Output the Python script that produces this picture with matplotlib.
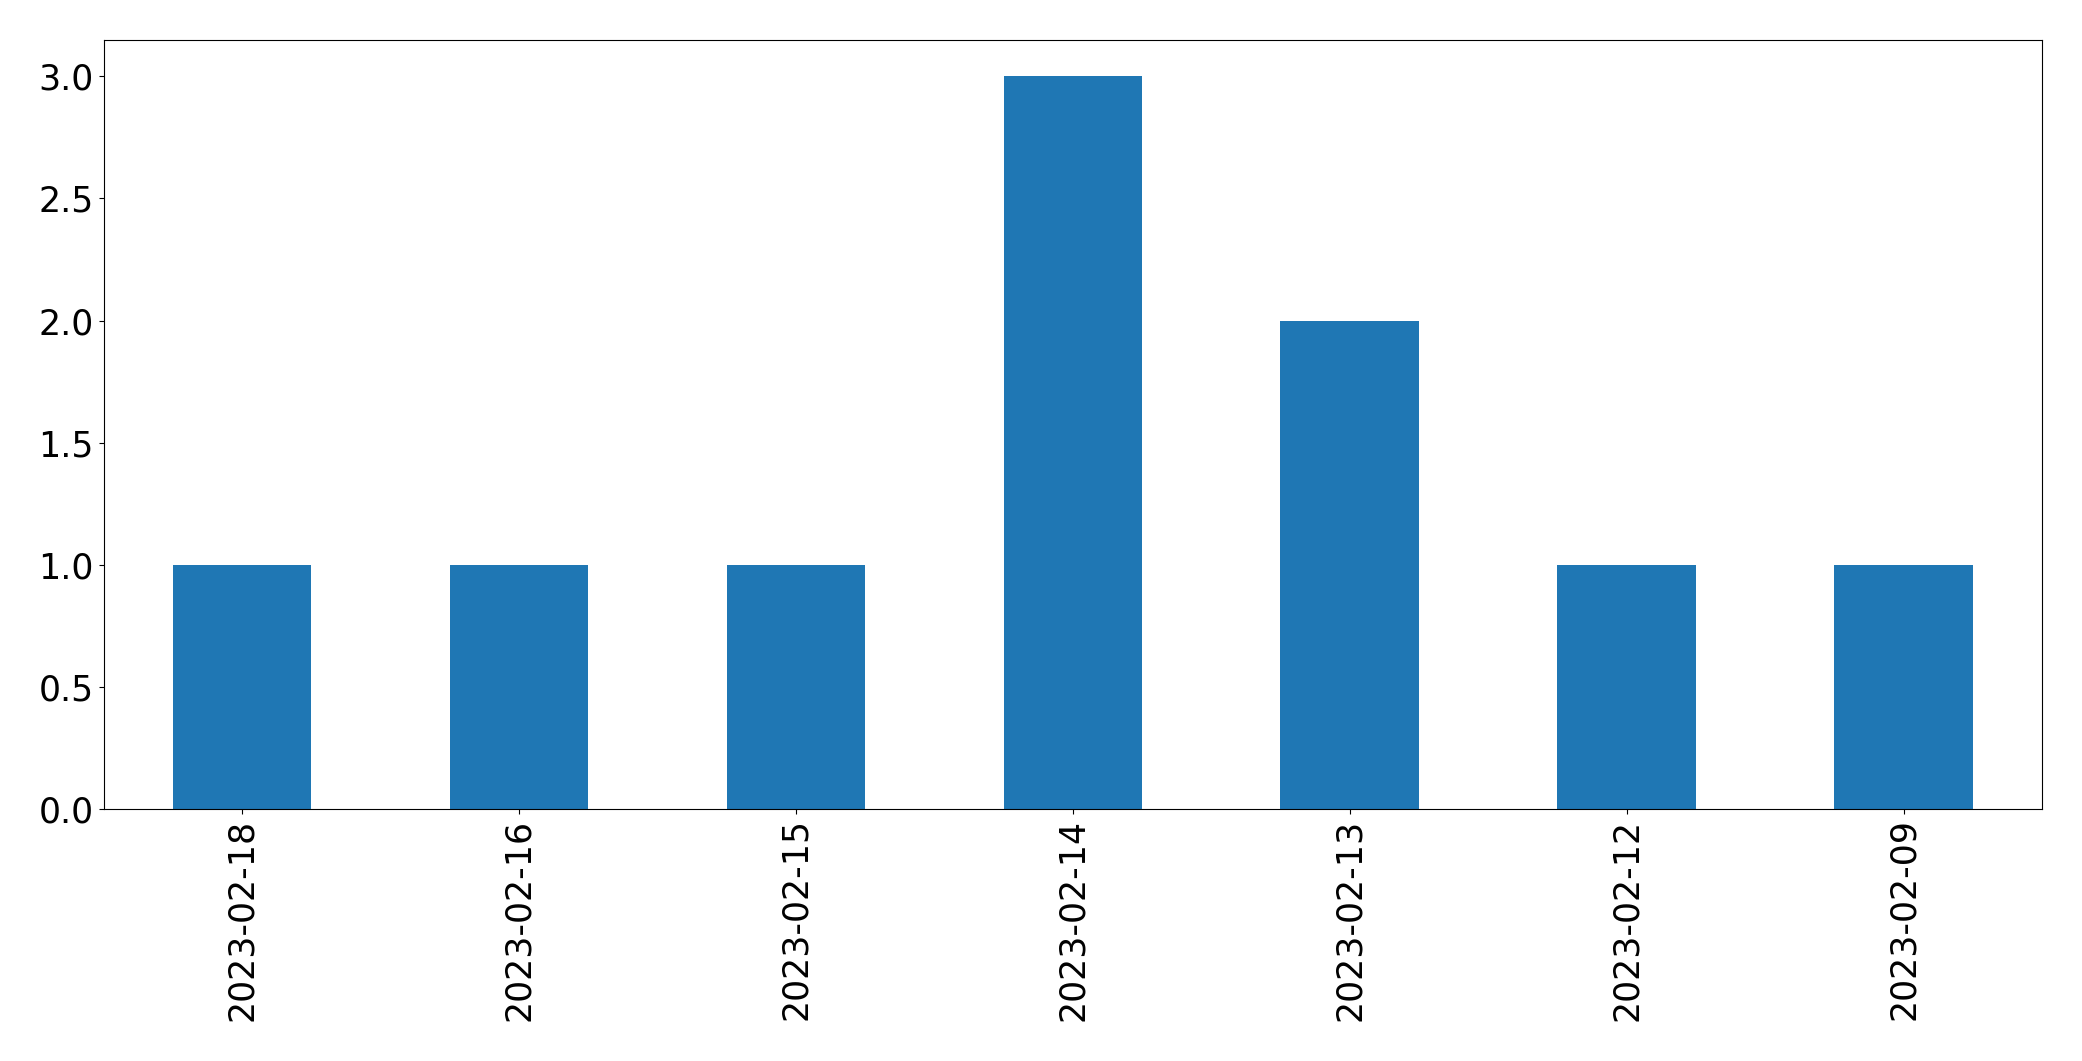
import matplotlib
matplotlib.use("Agg")
import matplotlib.pyplot as plt
import pandas as pd

# data
dates = ["2023-02-18", "2023-02-16", "2023-02-15", "2023-02-14",
         "2023-02-13", "2023-02-12", "2023-02-09"]
counts = [1, 1, 1, 3, 2, 1, 1]

s = pd.Series(counts, index=dates)

fig = plt.figure(figsize=(20.82, 10.61), dpi=100)
ax = fig.add_axes([103.6 / 2082, 1 - 808.7 / 1061, (2042 - 103.6) / 2082, (808.7 - 39.8) / 1061])
s.plot(kind="bar", ax=ax, color="#1f77b4")

ax.tick_params(axis="both", labelsize=25)
ax.set_yticks([0.0, 0.5, 1.0, 1.5, 2.0, 2.5, 3.0])

fig.savefig("out.png", dpi=100)
